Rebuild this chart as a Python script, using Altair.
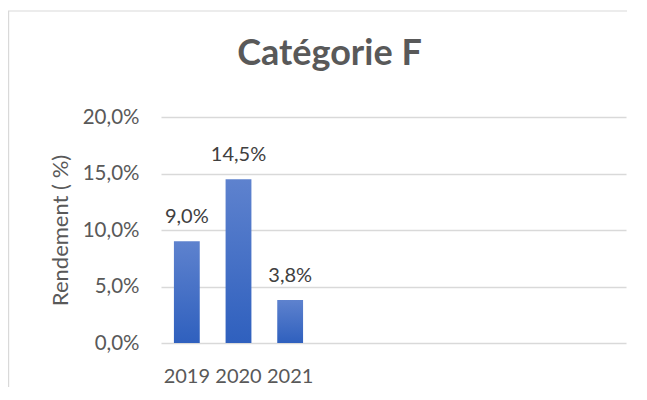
import altair as alt
import pandas as pd

categories = ["2019", "2020", "2021", " ", "  ", "   ", "    ", "     ", "      "]
values = [9.0, 14.5, 3.8, None, None, None, None, None, None]
y_ticks = [0, 5, 10, 15, 20]

df = pd.DataFrame({"annee": categories, "rendement": values})
df["label"] = [("" if v is None or pd.isna(v) else f"{v:.1f}%".replace(".", ",")) for v in df["rendement"]]
bars_df = df.dropna(subset=["rendement"])

FONT = "Lato"

x = alt.X("annee:N", sort=categories,
          scale=alt.Scale(domain=categories, paddingInner=0.5, paddingOuter=0.25),
          axis=alt.Axis(title=None, labelAngle=0, labelFont=FONT, labelFontSize=20,
                        labelColor="#595959", labelBaseline="alphabetic", labelPadding=39,
                        ticks=False, domain=False, grid=False))
y = alt.Y("rendement:Q",
          scale=alt.Scale(domain=[0, 20], nice=False),
          axis=alt.Axis(title="Rendement ( %)", values=y_ticks,
                        labelExpr="replace(format(datum.value, '.1f'), '.', ',') + '%'",
                        labelFont=FONT, labelFontSize=20.5, labelColor="#595959", labelPadding=22,
                        titleFont=FONT, titleFontSize=22, titleColor="#595959", titleFontWeight="normal",
                        titleX=-101, titleY=113, titleAlign="center", titleBaseline="middle", titleAngle=270,
                        ticks=False, domain=False, gridColor="#d9d9d9", gridWidth=1.3))

gradient = alt.Gradient(gradient="linear",
                        stops=[alt.GradientStop(color="#5E82CE", offset=0),
                               alt.GradientStop(color="#2F60BE", offset=1)],
                        x1=0, x2=0, y1=0, y2=1)

bars = alt.Chart(bars_df).mark_bar(color=gradient).encode(x=x, y=y)
labels = alt.Chart(bars_df).mark_text(font=FONT, fontSize=20, color="#404040",
                                      baseline="alphabetic", dy=-18).encode(
    x=alt.X("annee:N", sort=categories), y="rendement:Q", text="label:N")

frame_top = alt.Chart(alt.Data(values=[{}])).mark_rect(color="#d9d9d9", strokeWidth=0).encode(
    x=alt.value(-153), x2=alt.value(466), y=alt.value(-106.6), y2=alt.value(-105.4))
frame_left = alt.Chart(alt.Data(values=[{}])).mark_rect(color="#d9d9d9", strokeWidth=0).encode(
    x=alt.value(-153), x2=alt.value(-151.8), y=alt.value(-106), y2=alt.value(270))

chart = alt.layer(frame_top, frame_left, bars, labels).properties(
    width=465, height=226,
    padding={"left": 153, "top": 109, "right": 5, "bottom": 45},
    autosize=alt.AutoSizeParams(type="none"),
    title=alt.TitleParams("Catégorie F", font=FONT, fontSize=36, fontWeight="bold",
                          color="#595959", anchor="middle", frame="group", dx=-64,
                          baseline="alphabetic", offset=0, dy=91),
).configure_view(strokeWidth=0)

chart.save("out.html", embed_options={"renderer": "svg", "actions": False})
